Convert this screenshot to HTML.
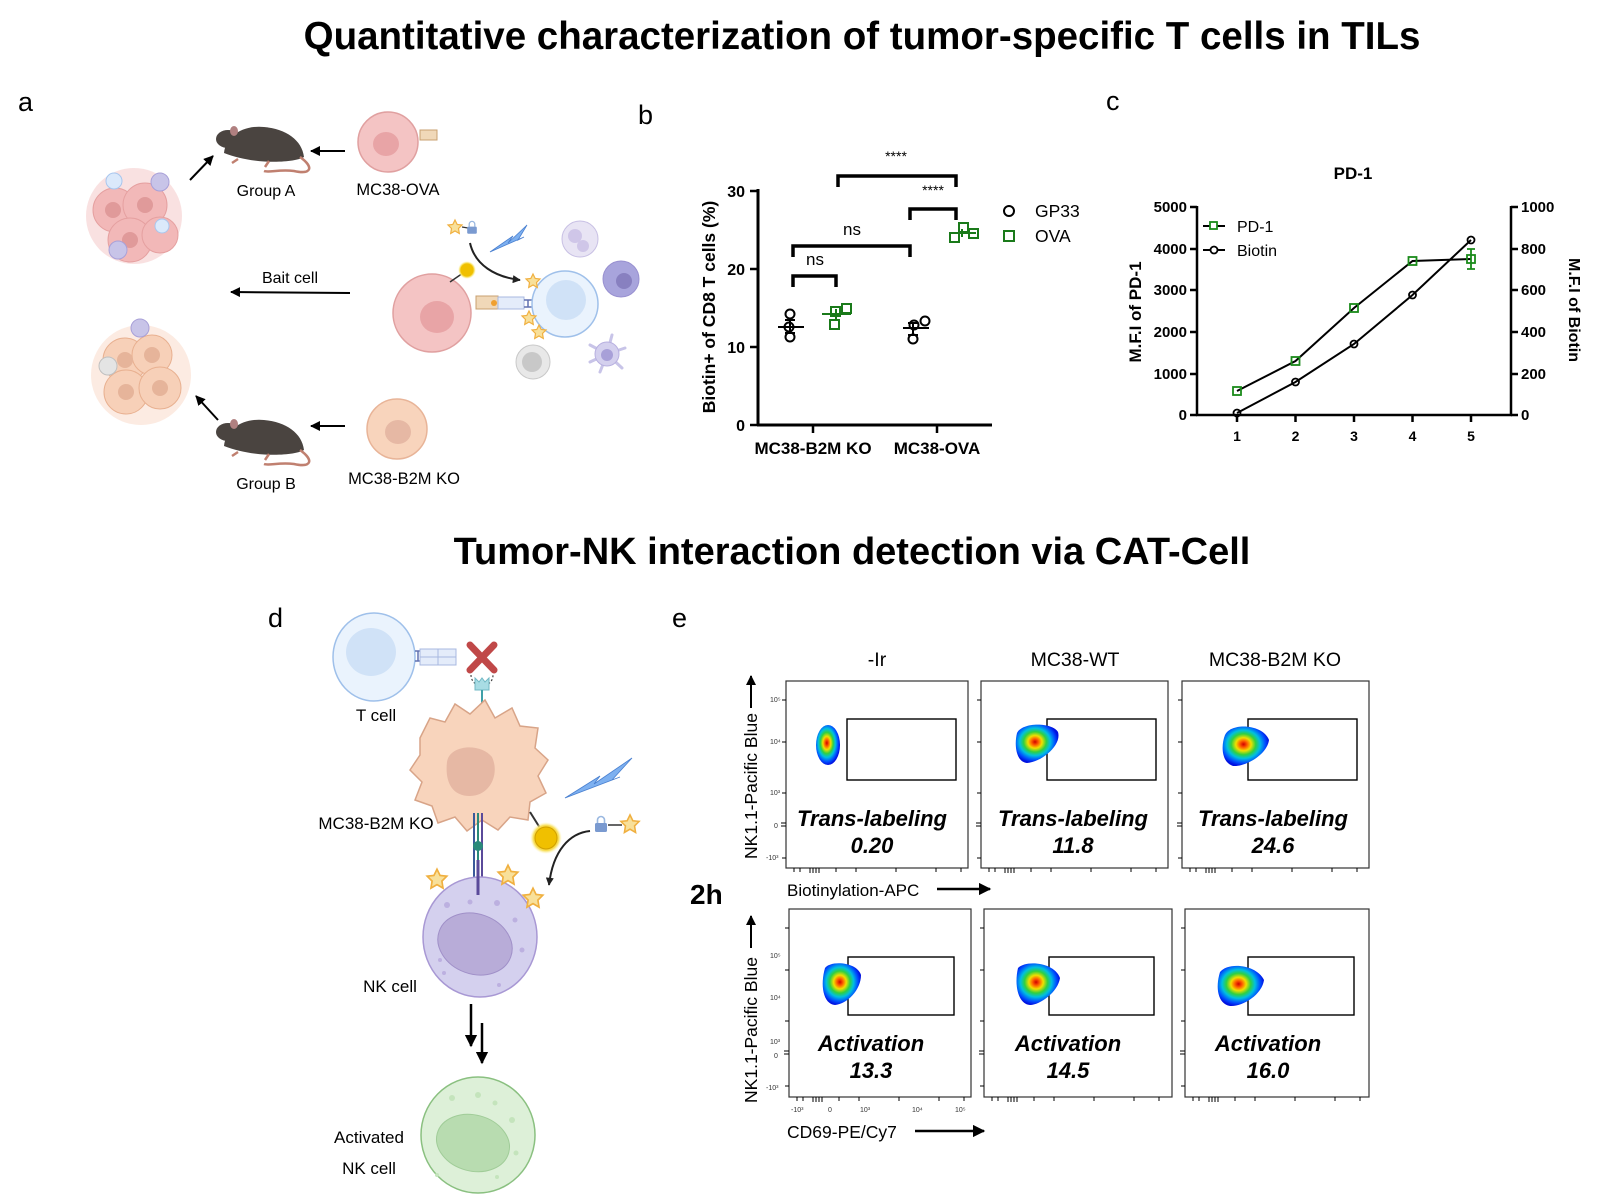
<!DOCTYPE html>
<html><head><meta charset="utf-8"><style>
html,body{margin:0;padding:0;background:#fff;}
svg{display:block;font-family:"Liberation Sans",Arial,sans-serif;}
</style></head><body>
<svg width="1601" height="1202" viewBox="0 0 1601 1202" xmlns="http://www.w3.org/2000/svg">
<defs>
<marker id="ah" viewBox="0 0 10 10" refX="9" refY="5" markerWidth="5" markerHeight="5" orient="auto"><path d="M0,0 L10,5 L0,10 z" fill="#000"/></marker>
<marker id="ah2" viewBox="0 0 10 10" refX="9" refY="5" markerWidth="4" markerHeight="4" orient="auto"><path d="M0,0 L10,5 L0,10 z" fill="#222"/></marker>
<radialGradient id="dens" cx="0.45" cy="0.45" r="0.55">
<stop offset="0" stop-color="#d00000"/><stop offset="0.15" stop-color="#ff6000"/><stop offset="0.3" stop-color="#f0e000"/><stop offset="0.48" stop-color="#30d040"/><stop offset="0.65" stop-color="#00c0e0"/><stop offset="0.85" stop-color="#0050ff"/><stop offset="1" stop-color="#0010e0"/>
</radialGradient>
<radialGradient id="glow"><stop offset="0.6" stop-color="#f0c000"/><stop offset="0.8" stop-color="#f8e060"/><stop offset="1" stop-color="#fff8c0" stop-opacity="0"/></radialGradient>
<g id="mouse">
<path d="M-40,8 C-38,-10 -20,-20 0,-18 C22,-16 38,-5 40,12 C30,18 -10,20 -40,8 Z" fill="#4a4440"/>
<ellipse cx="-36" cy="-6" rx="12" ry="9" fill="#4a4440"/>
<ellipse cx="-30" cy="-14" rx="4" ry="5" fill="#b08080"/>
<path d="M36,12 C50,22 48,30 30,26 C15,24 5,28 0,26" fill="none" stroke="#c08070" stroke-width="2.5"/>
<path d="M-26,14 l-6,4 M5,16 l-4,6" stroke="#c08070" stroke-width="2.5"/>
</g>
<g id="star"><path d="M0,-7 L2.2,-2.5 7,-2 3.5,1.5 4.3,6.5 0,4 -4.3,6.5 -3.5,1.5 -7,-2 -2.2,-2.5 Z" fill="#f8e09a" stroke="#f0b040" stroke-width="1.2"/></g>
<g id="lock"><rect x="-6" y="-3" width="12" height="9" rx="1.5" fill="#7a9ad0"/><path d="M-3.5,-3 v-3 a3.5,3.5 0 0 1 7,0 v3" fill="none" stroke="#9ab8e0" stroke-width="1.6"/></g>
<g id="tk" stroke="#000" stroke-width="1">
<path d="M8,0 v4 M14,0 v4 M24,0 v5 M27,0 v5 M30,0 v5 M33,0 v5 M50,0 v4 M70,0 v4 M110,0 v4 M150,0 v4 M175,0 v4"/>
</g>
<g id="tky" stroke="#000" stroke-width="1">
<path d="M0,19 h-4 M0,61 h-4 M0,112 h-4 M0,142 h-5 M0,145 h-5 M0,177 h-4"/>
</g>
</defs>

<text x="862" y="49" text-anchor="middle" font-size="38.5" font-weight="bold">Quantitative characterization of tumor-specific T cells in TILs</text>
<text x="852" y="564" text-anchor="middle" font-size="38" font-weight="bold">Tumor-NK interaction detection via CAT-Cell</text>

<text x="18" y="111" font-size="27">a</text>
<text x="638" y="124" font-size="27">b</text>
<text x="1106" y="110" font-size="27">c</text>
<text x="268" y="627" font-size="27">d</text>
<text x="672" y="627" font-size="27">e</text>

<!-- ================= Panel a ================= -->
<g>
<circle cx="134" cy="216" r="48" fill="#f7d4d4" opacity="0.7"/>
<circle cx="115" cy="210" r="22" fill="#f2b8b8" stroke="#e5a0a0"/>
<circle cx="145" cy="205" r="22" fill="#f2b8b8" stroke="#e5a0a0"/>
<circle cx="130" cy="240" r="22" fill="#f2b8b8" stroke="#e5a0a0"/>
<circle cx="160" cy="235" r="18" fill="#f2b8b8" stroke="#e5a0a0"/>
<circle cx="113" cy="210" r="8" fill="#e09a9a"/><circle cx="145" cy="205" r="8" fill="#e09a9a"/><circle cx="130" cy="240" r="8" fill="#e09a9a"/>
<circle cx="114" cy="181" r="8" fill="#dbe9fb" stroke="#a8c6ee"/>
<circle cx="162" cy="226" r="7" fill="#dbe9fb" stroke="#a8c6ee"/>
<circle cx="160" cy="182" r="9" fill="#c8c4e8" stroke="#a8a0d8"/>
<circle cx="118" cy="250" r="9" fill="#c8c4e8" stroke="#a8a0d8"/>
</g>
<line x1="190" y1="180" x2="213" y2="156" stroke="#000" stroke-width="2" marker-end="url(#ah)"/>
<use href="#mouse" transform="translate(264,145)"/>
<text x="266" y="196" text-anchor="middle" font-size="16">Group A</text>
<line x1="345" y1="151" x2="311" y2="151" stroke="#000" stroke-width="2" marker-end="url(#ah)"/>
<circle cx="388" cy="142" r="30" fill="#f4c4c4" stroke="#e0a0a0" stroke-width="1.5"/>
<ellipse cx="386" cy="144" rx="13" ry="12" fill="#e8a4a6"/>
<rect x="420" y="130" width="17" height="10" fill="#f0d8b8" stroke="#c8a070"/>
<text x="398" y="195" text-anchor="middle" font-size="16.5">MC38-OVA</text>

<text x="290" y="283" text-anchor="middle" font-size="16">Bait cell</text>
<line x1="350" y1="293" x2="231" y2="292" stroke="#000" stroke-width="2" marker-end="url(#ah)"/>

<circle cx="432" cy="313" r="39" fill="#f4c4c4" stroke="#e0a0a0" stroke-width="1.5"/>
<ellipse cx="437" cy="317" rx="17" ry="16" fill="#e8a4a6"/>
<line x1="450" y1="282" x2="463" y2="273" stroke="#333" stroke-width="1.5"/>
<circle cx="467" cy="270" r="9" fill="url(#glow)"/>
<circle cx="467" cy="270" r="6.5" fill="#f0c000"/>
<rect x="476" y="296" width="22" height="13" fill="#f0d8b8" stroke="#c8a070"/>
<circle cx="494" cy="303" r="3" fill="#f0a030"/>
<rect x="498" y="297" width="26" height="12" fill="#e4ecfa" stroke="#a8b8e0"/>
<path d="M524,300 h8 M524,307 h8 M528,300 v7" stroke="#6070b0" stroke-width="1.5"/>
<circle cx="565" cy="304" r="33" fill="#eaf3fd" stroke="#9fc0ea" stroke-width="1.5"/>
<circle cx="566" cy="300" r="20" fill="#d0e2f7"/>
<use href="#star" transform="translate(455,227)"/>
<line x1="462" y1="227" x2="468" y2="228" stroke="#333" stroke-width="1.2"/>
<use href="#lock" transform="translate(472,229) scale(0.8)"/>
<path d="M490,252 L513,236 L508,243 L527,225 L518,240 L524,237 Z" fill="#7db0f0" stroke="#4a80d0" stroke-width="0.8"/>
<path d="M470,243 C475,265 495,277 520,280" fill="none" stroke="#222" stroke-width="2" marker-end="url(#ah2)"/>
<use href="#star" transform="translate(533,281)"/>
<use href="#star" transform="translate(529,318)"/>
<use href="#star" transform="translate(539,332)"/>
<circle cx="580" cy="239" r="18" fill="#e8e4f4" stroke="#c8c0e4"/>
<circle cx="575" cy="236" r="7" fill="#cfc6e8"/><circle cx="583" cy="246" r="6" fill="#cfc6e8"/>
<circle cx="621" cy="279" r="18" fill="#a8a4dc" stroke="#9890d0"/>
<circle cx="624" cy="281" r="8" fill="#8880c0"/>
<circle cx="533" cy="362" r="17" fill="#e8e8e8" stroke="#c8c8c8"/>
<circle cx="532" cy="362" r="10" fill="#c8c8c8"/>
<g stroke="#c8c4e8" stroke-width="3" stroke-linecap="round">
<line x1="607" y1="354" x2="590" y2="345"/><line x1="607" y1="354" x2="612" y2="335"/><line x1="607" y1="354" x2="625" y2="348"/><line x1="607" y1="354" x2="622" y2="368"/><line x1="607" y1="354" x2="600" y2="372"/><line x1="607" y1="354" x2="590" y2="362"/>
</g>
<circle cx="607" cy="354" r="12" fill="#d4d0ee" stroke="#b8b0e0"/>
<circle cx="607" cy="355" r="6" fill="#a8a0d8"/>

<g>
<circle cx="141" cy="375" r="50" fill="#fbe2d6" opacity="0.7"/>
<circle cx="125" cy="360" r="22" fill="#f7d0b8" stroke="#e8b090"/>
<circle cx="152" cy="355" r="20" fill="#f7d0b8" stroke="#e8b090"/>
<circle cx="126" cy="392" r="22" fill="#f7d0b8" stroke="#e8b090"/>
<circle cx="160" cy="388" r="21" fill="#f7d0b8" stroke="#e8b090"/>
<circle cx="125" cy="360" r="8" fill="#e6b49a"/><circle cx="152" cy="355" r="8" fill="#e6b49a"/><circle cx="126" cy="392" r="8" fill="#e6b49a"/><circle cx="160" cy="388" r="8" fill="#e6b49a"/>
<circle cx="108" cy="366" r="9" fill="#e4e4e4" stroke="#c0c0c0"/>
<circle cx="140" cy="328" r="9" fill="#c8c4e8" stroke="#a8a0d8"/>
</g>
<line x1="218" y1="420" x2="196" y2="396" stroke="#000" stroke-width="2" marker-end="url(#ah)"/>
<use href="#mouse" transform="translate(264,438)"/>
<text x="266" y="489" text-anchor="middle" font-size="16">Group B</text>
<line x1="345" y1="426" x2="311" y2="426" stroke="#000" stroke-width="2" marker-end="url(#ah)"/>
<circle cx="397" cy="429" r="30" fill="#f8d4bc" stroke="#e8b498" stroke-width="1.5"/>
<ellipse cx="398" cy="432" rx="13" ry="12" fill="#e6b8a4"/>
<text x="404" y="484" text-anchor="middle" font-size="16.5">MC38-B2M KO</text>

<!-- ================= Panel b ================= -->
<g font-weight="bold" font-size="16">
<line x1="758" y1="189" x2="758" y2="426" stroke="#000" stroke-width="3"/>
<line x1="757" y1="425" x2="992" y2="425" stroke="#000" stroke-width="3"/>
<g stroke="#000" stroke-width="2.5">
<line x1="750" y1="191" x2="758" y2="191"/><line x1="750" y1="269" x2="758" y2="269"/><line x1="750" y1="347" x2="758" y2="347"/><line x1="750" y1="425" x2="758" y2="425"/>
<line x1="813" y1="425" x2="813" y2="433"/><line x1="937" y1="425" x2="937" y2="433"/>
</g>
<text x="745" y="197" text-anchor="end">30</text>
<text x="745" y="275" text-anchor="end">20</text>
<text x="745" y="353" text-anchor="end">10</text>
<text x="745" y="431" text-anchor="end">0</text>
<text x="813" y="454" text-anchor="middle" font-size="17">MC38-B2M KO</text>
<text x="937" y="454" text-anchor="middle" font-size="17">MC38-OVA</text>
<text transform="translate(715,307) rotate(-90)" text-anchor="middle" font-size="17.5">Biotin+ of CD8 T cells (%)</text>
</g>
<g fill="none" stroke-width="2">
<g stroke="#000">
<circle cx="790" cy="314" r="4.5"/><circle cx="789" cy="327" r="4.5"/><circle cx="790" cy="337" r="4.5"/>
<line x1="778" y1="327" x2="804" y2="327"/><line x1="785" y1="320" x2="795" y2="320"/><line x1="785" y1="333" x2="795" y2="333"/><line x1="790" y1="320" x2="790" y2="333"/>
<circle cx="914" cy="325" r="4.5"/><circle cx="913" cy="339" r="4.5"/><circle cx="925" cy="321" r="4.5"/>
<line x1="903" y1="328" x2="929" y2="328"/><line x1="908" y1="323" x2="918" y2="323"/><line x1="908" y1="335" x2="918" y2="335"/><line x1="913" y1="323" x2="913" y2="335"/>
</g>
<g stroke="#1a7a1a">
<rect x="830" y="320" width="9" height="9"/><rect x="831" y="307" width="9" height="9"/><rect x="842" y="304" width="9" height="9"/>
<line x1="822" y1="314" x2="851" y2="314"/><line x1="836" y1="309" x2="836" y2="319"/>
<rect x="950" y="233" width="9" height="9"/><rect x="959" y="223" width="9" height="9"/><rect x="969" y="229" width="9" height="9"/>
<line x1="952" y1="233" x2="976" y2="233"/><line x1="962" y1="229" x2="962" y2="237"/>
</g>
</g>
<g fill="none" stroke="#000" stroke-width="3.5">
<path d="M793,287 V276 H836 V287"/>
<path d="M793,257 V246 H910 V257"/>
<path d="M910,220 V209 H956 V220"/>
<path d="M838,187 V176 H956 V187"/>
</g>
<g font-size="17" text-anchor="middle">
<text x="815" y="265">ns</text>
<text x="852" y="235">ns</text>
<text x="933" y="195" font-size="14">****</text>
<text x="896" y="161" font-size="14">****</text>
</g>
<circle cx="1009" cy="211" r="5" fill="none" stroke="#000" stroke-width="2"/>
<rect x="1004" y="231" width="10" height="10" fill="none" stroke="#1a7a1a" stroke-width="2"/>
<text x="1035" y="217" font-size="17.5">GP33</text>
<text x="1035" y="242" font-size="17.5">OVA</text>

<!-- ================= Panel c ================= -->
<text x="1353" y="179" text-anchor="middle" font-size="17" font-weight="bold">PD-1</text>
<g stroke="#000" stroke-width="2.5" fill="none">
<line x1="1197" y1="206" x2="1197" y2="416"/>
<line x1="1511" y1="206" x2="1511" y2="416"/>
<line x1="1196" y1="415" x2="1512" y2="415"/>
<path d="M1190,207h7 M1190,249h7 M1190,290h7 M1190,332h7 M1190,374h7 M1190,415h7"/>
<path d="M1511,207h7 M1511,249h7 M1511,290h7 M1511,332h7 M1511,374h7 M1511,415h7"/>
<path d="M1237,415v7 M1295.5,415v7 M1354,415v7 M1412.5,415v7 M1471,415v7"/>
</g>
<g font-size="15" font-weight="bold">
<g text-anchor="end">
<text x="1187" y="212">5000</text><text x="1187" y="254">4000</text><text x="1187" y="295">3000</text><text x="1187" y="337">2000</text><text x="1187" y="379">1000</text><text x="1187" y="420">0</text>
</g>
<text x="1521" y="212">1000</text><text x="1521" y="254">800</text><text x="1521" y="295">600</text><text x="1521" y="337">400</text><text x="1521" y="379">200</text><text x="1521" y="420">0</text>
<g text-anchor="middle" font-size="14">
<text x="1237" y="441">1</text><text x="1295.5" y="441">2</text><text x="1354" y="441">3</text><text x="1412.5" y="441">4</text><text x="1471" y="441">5</text>
</g>
<text transform="translate(1141,312) rotate(-90)" text-anchor="middle" font-size="17">M.F.I of PD-1</text>
<text transform="translate(1569,310) rotate(90)" text-anchor="middle" font-size="16">M.F.I of Biotin</text>
</g>
<polyline points="1237,391 1295.5,361 1354,308 1412.5,261 1471,259" fill="none" stroke="#000" stroke-width="2"/>
<polyline points="1237,413 1295.5,382 1354,344 1412.5,295 1471,240" fill="none" stroke="#000" stroke-width="2"/>
<g fill="none" stroke="#1a8a1a" stroke-width="1.8">
<rect x="1233" y="387" width="8" height="8"/><rect x="1291.5" y="357" width="8" height="8"/><rect x="1350" y="304" width="8" height="8"/><rect x="1408.5" y="257" width="8" height="8"/><rect x="1467" y="255" width="8" height="8"/>
<path d="M1471,249v20 M1467,249h8 M1467,269h8"/>
</g>
<g fill="none" stroke="#000" stroke-width="1.8">
<circle cx="1237" cy="413" r="3.5"/><circle cx="1295.5" cy="382" r="3.5"/><circle cx="1354" cy="344" r="3.5"/><circle cx="1412.5" cy="295" r="3.5"/><circle cx="1471" cy="240" r="3.5"/>
</g>
<line x1="1203" y1="226" x2="1225" y2="226" stroke="#000" stroke-width="2"/>
<rect x="1210" y="222" width="7" height="7" fill="#fff" stroke="#1a8a1a" stroke-width="1.8"/>
<line x1="1203" y1="250" x2="1225" y2="250" stroke="#000" stroke-width="2"/>
<circle cx="1214" cy="250" r="3.5" fill="#fff" stroke="#000" stroke-width="1.8"/>
<text x="1237" y="232" font-size="16">PD-1</text>
<text x="1237" y="256" font-size="16">Biotin</text>

<!-- ================= Panel d ================= -->
<ellipse cx="374" cy="657" rx="41" ry="44" fill="#eaf3fd" stroke="#9fc0ea" stroke-width="1.5"/>
<ellipse cx="371" cy="652" rx="25" ry="24" fill="#d0e2f7"/>
<path d="M415,651 h5 M415,661 h5 M418,651 v10" stroke="#6070b0" stroke-width="1.5"/>
<rect x="420" y="649" width="18" height="8" fill="#e4ecfa" stroke="#a8b8e0"/><rect x="438" y="649" width="18" height="8" fill="#e4ecfa" stroke="#a8b8e0"/>
<rect x="420" y="657" width="18" height="8" fill="#e4ecfa" stroke="#a8b8e0"/><rect x="438" y="657" width="18" height="8" fill="#e4ecfa" stroke="#a8b8e0"/>
<path d="M470,645 L494,670 M494,645 L470,670" stroke="#c04848" stroke-width="7" stroke-linecap="round"/>
<path d="M471,675 a11,11 0 0 0 22,0" fill="none" stroke="#444" stroke-width="1.2" stroke-dasharray="2,2"/>
<path d="M475,678 v12 h14 v-12 l-4,4 -3,-4 -3,4 z" fill="#a8dce4" stroke="#70b8c4"/>
<line x1="482" y1="690" x2="482" y2="716" stroke="#40a0a8" stroke-width="2"/>
<text x="376" y="721" text-anchor="middle" font-size="17">T cell</text>
<path d="M420,738 L430,718 445,722 455,704 470,714 485,700 495,718 512,708 520,726 538,728 535,748 548,760 538,776 546,793 530,802 528,820 510,817 498,830 482,820 467,831 455,817 438,823 432,806 415,800 422,782 410,770 420,755 Z" fill="#f8d4bc" stroke="#d8a488" stroke-width="1.5"/>
<path d="M447,762 C449,745 480,742 492,757 C500,774 490,796 470,796 C450,796 445,779 447,762 Z" fill="#e6b8a4"/>
<text x="376" y="829" text-anchor="middle" font-size="17">MC38-B2M KO</text>
<path d="M565,798 L600,776 L594,784 L632,758 L612,780 L620,777 Z" fill="#7db0f0" stroke="#4a80d0" stroke-width="0.8"/>
<line x1="530" y1="812" x2="540" y2="828" stroke="#333" stroke-width="2"/>
<circle cx="546" cy="838" r="16" fill="url(#glow)"/>
<circle cx="546" cy="838" r="11" fill="#f0c000" stroke="#d0a000"/>
<use href="#lock" transform="translate(601,826)"/>
<line x1="608" y1="825" x2="622" y2="825" stroke="#333" stroke-width="1.5"/>
<use href="#star" transform="translate(630,824) scale(1.3)"/>
<path d="M590,831 C570,833 553,850 549,885" fill="none" stroke="#222" stroke-width="2" marker-end="url(#ah2)"/>
<g stroke-width="2">
<line x1="474" y1="813" x2="474" y2="893" stroke="#3a5a9a"/><line x1="478" y1="813" x2="478" y2="893" stroke="#2a8a7a"/><line x1="482" y1="813" x2="482" y2="893" stroke="#5a4a9a"/>
</g>
<circle cx="478" cy="846" r="5" fill="#2a8a7a"/>
<ellipse cx="480" cy="937" rx="57" ry="60" fill="#d4d0ee" stroke="#a898d4" stroke-width="1.5"/>
<ellipse cx="475" cy="944" rx="38" ry="30" transform="rotate(20 475 944)" fill="#b8acd8" stroke="#a090c8"/>
<g fill="#bcb0e0"><circle cx="447" cy="905" r="3"/><circle cx="470" cy="902" r="2.5"/><circle cx="497" cy="903" r="3"/><circle cx="515" cy="920" r="2.5"/><circle cx="522" cy="950" r="2.5"/><circle cx="440" cy="960" r="2"/><circle cx="444" cy="973" r="2"/><circle cx="499" cy="985" r="2"/></g>
<line x1="478" y1="860" x2="478" y2="895" stroke="#5a4a9a" stroke-width="3"/>
<use href="#star" transform="translate(437,879) scale(1.4)"/>
<use href="#star" transform="translate(508,875) scale(1.4)"/>
<use href="#star" transform="translate(533,898) scale(1.4)"/>
<text x="390" y="992" text-anchor="middle" font-size="17">NK cell</text>
<line x1="471" y1="1004" x2="471" y2="1046" stroke="#000" stroke-width="2.5" marker-end="url(#ah)"/>
<line x1="482" y1="1023" x2="482" y2="1063" stroke="#000" stroke-width="2.5" marker-end="url(#ah)"/>
<ellipse cx="478" cy="1135" rx="57" ry="58" fill="#ddf0d8" stroke="#8ac080" stroke-width="1.5"/>
<ellipse cx="473" cy="1143" rx="37" ry="28" transform="rotate(15 473 1143)" fill="#b8dcb0" stroke="#a0cc98"/>
<g fill="#c4e4bc"><circle cx="452" cy="1098" r="3"/><circle cx="478" cy="1095" r="3"/><circle cx="495" cy="1103" r="2.5"/><circle cx="512" cy="1120" r="3"/><circle cx="516" cy="1153" r="2.5"/><circle cx="437" cy="1175" r="2"/><circle cx="497" cy="1177" r="2"/></g>
<text x="369" y="1143" text-anchor="middle" font-size="17">Activated</text>
<text x="369" y="1174" text-anchor="middle" font-size="17">NK cell</text>

<!-- ================= Panel e ================= -->
<g font-size="19.5" text-anchor="middle">
<text x="877" y="666">-Ir</text><text x="1075" y="666">MC38-WT</text><text x="1275" y="666">MC38-B2M KO</text>
</g>
<text x="690" y="904" font-size="28" font-weight="bold">2h</text>
<text transform="translate(757,786) rotate(-90)" text-anchor="middle" font-size="17.5">NK1.1-Pacific Blue</text>
<line x1="751" y1="708" x2="751" y2="676" stroke="#000" stroke-width="2" marker-end="url(#ah)"/>
<text transform="translate(757,1030) rotate(-90)" text-anchor="middle" font-size="17.5">NK1.1-Pacific Blue</text>
<line x1="751" y1="948" x2="751" y2="916" stroke="#000" stroke-width="2" marker-end="url(#ah)"/>
<text x="787" y="896" font-size="17">Biotinylation-APC</text>
<line x1="937" y1="889" x2="990" y2="889" stroke="#000" stroke-width="2.5" marker-end="url(#ah)"/>
<text x="787" y="1138" font-size="17.5">CD69-PE/Cy7</text>
<line x1="915" y1="1131" x2="984" y2="1131" stroke="#000" stroke-width="2.5" marker-end="url(#ah)"/>
<g font-size="7" fill="#333">
<text x="770" y="702">10⁵</text><text x="770" y="744">10⁴</text><text x="770" y="795">10³</text><text x="774" y="828">0</text><text x="766" y="860">-10³</text>
<text x="770" y="958">10⁵</text><text x="770" y="1000">10⁴</text><text x="770" y="1044">10³</text><text x="774" y="1058">0</text><text x="766" y="1090">-10³</text>
<text x="791" y="1112">-10³</text><text x="828" y="1112">0</text><text x="860" y="1112">10³</text><text x="912" y="1112">10⁴</text><text x="955" y="1112">10⁵</text>
</g>
<g fill="none" stroke="#333" stroke-width="1.2">
<rect x="786" y="681" width="182" height="187"/><rect x="981" y="681" width="187" height="187"/><rect x="1182" y="681" width="187" height="187"/>
<rect x="789" y="909" width="182" height="188"/><rect x="984" y="909" width="188" height="188"/><rect x="1185" y="909" width="184" height="188"/>
</g>
<g stroke="#000" stroke-width="1.4" fill="none">
<rect x="847" y="719" width="109" height="61"/><rect x="1047" y="719" width="109" height="61"/><rect x="1248" y="719" width="109" height="61"/>
<rect x="848" y="957" width="106" height="58"/><rect x="1049" y="957" width="105" height="58"/><rect x="1248" y="957" width="106" height="58"/>
</g>
<use href="#tk" transform="translate(786,868)"/><use href="#tk" transform="translate(981,868)"/><use href="#tk" transform="translate(1182,868)"/>
<use href="#tk" transform="translate(789,1097)"/><use href="#tk" transform="translate(984,1097)"/><use href="#tk" transform="translate(1185,1097)"/>
<use href="#tky" transform="translate(786,681)"/><use href="#tky" transform="translate(981,681)"/><use href="#tky" transform="translate(1182,681)"/>
<use href="#tky" transform="translate(789,909)"/><use href="#tky" transform="translate(984,909)"/><use href="#tky" transform="translate(1185,909)"/>
<ellipse cx="828" cy="745" rx="12" ry="20" fill="url(#dens)"/>
<path d="M1017,733 C1022,722 1052,722 1058,732 C1062,745 1042,762 1027,763 C1016,762 1014,745 1017,733 Z" fill="url(#dens)"/>
<path d="M1225,735 C1231,722 1263,724 1269,740 C1267,755 1245,767 1233,766 C1221,762 1221,745 1225,735 Z" fill="url(#dens)"/>
<path d="M825,968 C831,960 857,962 861,975 C861,990 847,1004 835,1005 C823,1004 820,985 825,968 Z" fill="url(#dens)"/>
<path d="M1018,968 C1026,960 1054,962 1060,978 C1058,992 1040,1005 1030,1005 C1018,1004 1014,985 1018,968 Z" fill="url(#dens)"/>
<path d="M1220,972 C1228,962 1256,964 1264,980 C1262,995 1242,1007 1230,1006 C1218,1004 1215,988 1220,972 Z" fill="url(#dens)"/>
<g font-size="22" font-weight="bold" font-style="italic" text-anchor="middle">
<text x="872" y="826">Trans-labeling</text><text x="872" y="853">0.20</text>
<text x="1073" y="826">Trans-labeling</text><text x="1073" y="853">11.8</text>
<text x="1273" y="826">Trans-labeling</text><text x="1273" y="853">24.6</text>
<text x="871" y="1051">Activation</text><text x="871" y="1078">13.3</text>
<text x="1068" y="1051">Activation</text><text x="1068" y="1078">14.5</text>
<text x="1268" y="1051">Activation</text><text x="1268" y="1078">16.0</text>
</g>
</svg>
</body></html>
